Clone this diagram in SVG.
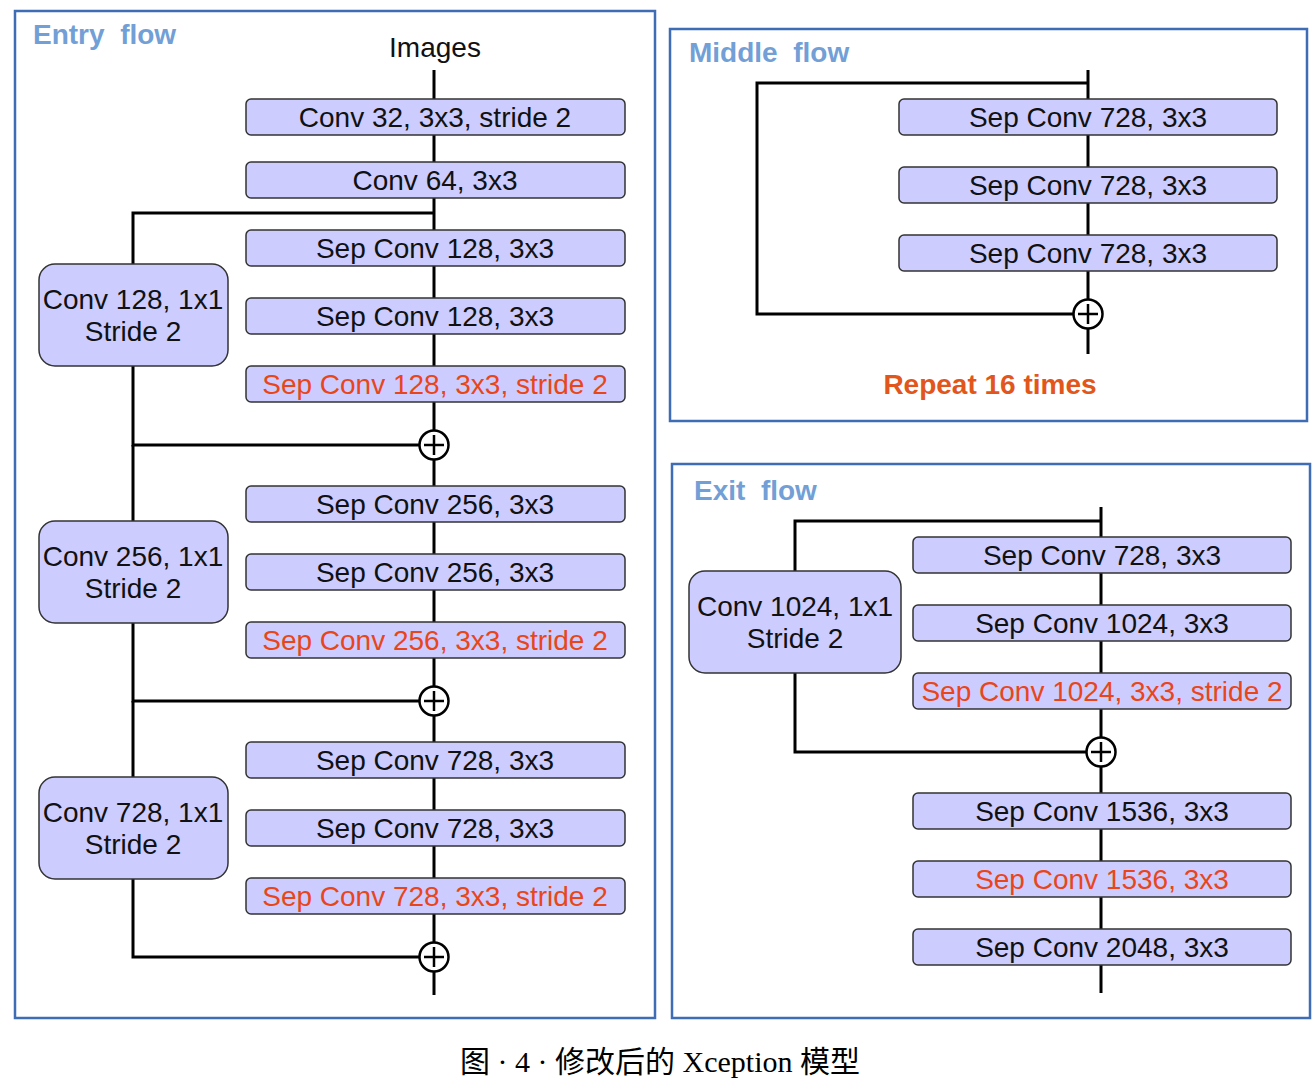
<svg xmlns="http://www.w3.org/2000/svg" width="1316" height="1086" viewBox="0 0 1316 1086">
<style>
.frame{fill:none;stroke:#3f6db5;stroke-width:2.5}
.title{font-family:"Liberation Sans",Arial,sans-serif;font-weight:bold;font-size:28px;fill:#729fd6;white-space:pre}
.box{fill:#ccccff;stroke:#333;stroke-width:1.5}
.t{font-family:"Liberation Sans",Arial,sans-serif;font-size:28px;fill:#111;text-anchor:middle}
.red{fill:#e8461a}
.ln{fill:none;stroke:#000;stroke-width:3}
.plus{fill:#fff;stroke:#000;stroke-width:2.5}
.cap{font-family:"Liberation Serif","Noto Sans CJK SC",serif;font-size:30px;fill:#000;text-anchor:middle;white-space:pre}
</style>
<defs>
<g id="plusSym">
<circle class="plus" cx="0" cy="0" r="14.5"/>
<path d="M-10 0H10M0 -10V10" stroke="#000" stroke-width="2.5" fill="none"/>
</g>
</defs>

<!-- frames -->
<g id="entry-frame">
<rect class="frame" x="15" y="11" width="640" height="1007"/>
<text class="title" x="33" y="44" xml:space="preserve">Entry  flow</text>
</g>
<g id="middle-frame">
<rect class="frame" x="670" y="29" width="637" height="392"/>
<text class="title" x="689" y="62" xml:space="preserve">Middle  flow</text>
</g>
<g id="exit-frame">
<rect class="frame" x="672" y="464" width="638" height="554"/>
<text class="title" x="694" y="500" xml:space="preserve">Exit  flow</text>
</g>

<!-- connectors -->
<g id="connectors">
<path class="ln" d="M434 70V995"/>
<path class="ln" d="M434 213H133V445H419"/>
<path class="ln" d="M133 445V701H419"/>
<path class="ln" d="M133 701V957H419"/>
<path class="ln" d="M1088 70V354"/>
<path class="ln" d="M1088 83H757V314H1073"/>
<path class="ln" d="M1101 507V993"/>
<path class="ln" d="M1101 521H795V752H1086"/>
<use href="#plusSym" x="434" y="445"/>
<use href="#plusSym" x="434" y="701"/>
<use href="#plusSym" x="434" y="957"/>
<use href="#plusSym" x="1088" y="314"/>
<use href="#plusSym" x="1101" y="752"/>
</g>

<text class="t" x="435" y="57" font-size="26">Images</text>

<!-- entry flow nodes -->
<g id="e1"><rect class="box" x="246" y="99" width="379" height="36" rx="5"/><text class="t" x="435" y="127">Conv 32, 3x3, stride 2</text></g>
<g id="e2"><rect class="box" x="246" y="162" width="379" height="36" rx="5"/><text class="t" x="435" y="190">Conv 64, 3x3</text></g>
<g id="e3"><rect class="box" x="246" y="230" width="379" height="36" rx="5"/><text class="t" x="435" y="258">Sep Conv 128, 3x3</text></g>
<g id="e4"><rect class="box" x="246" y="298" width="379" height="36" rx="5"/><text class="t" x="435" y="326">Sep Conv 128, 3x3</text></g>
<g id="e5"><rect class="box" x="246" y="366" width="379" height="36" rx="5"/><text class="t red" x="435" y="394">Sep Conv 128, 3x3, stride 2</text></g>
<g id="s1"><rect class="box" x="39" y="264" width="189" height="102" rx="16"/><text class="t" x="133" y="309">Conv 128, 1x1</text><text class="t" x="133" y="341">Stride 2</text></g>

<g id="e6"><rect class="box" x="246" y="486" width="379" height="36" rx="5"/><text class="t" x="435" y="514">Sep Conv 256, 3x3</text></g>
<g id="e7"><rect class="box" x="246" y="554" width="379" height="36" rx="5"/><text class="t" x="435" y="582">Sep Conv 256, 3x3</text></g>
<g id="e8"><rect class="box" x="246" y="622" width="379" height="36" rx="5"/><text class="t red" x="435" y="650">Sep Conv 256, 3x3, stride 2</text></g>
<g id="s2"><rect class="box" x="39" y="521" width="189" height="102" rx="16"/><text class="t" x="133" y="566">Conv 256, 1x1</text><text class="t" x="133" y="598">Stride 2</text></g>

<g id="e9"><rect class="box" x="246" y="742" width="379" height="36" rx="5"/><text class="t" x="435" y="770">Sep Conv 728, 3x3</text></g>
<g id="e10"><rect class="box" x="246" y="810" width="379" height="36" rx="5"/><text class="t" x="435" y="838">Sep Conv 728, 3x3</text></g>
<g id="e11"><rect class="box" x="246" y="878" width="379" height="36" rx="5"/><text class="t red" x="435" y="906">Sep Conv 728, 3x3, stride 2</text></g>
<g id="s3"><rect class="box" x="39" y="777" width="189" height="102" rx="16"/><text class="t" x="133" y="822">Conv 728, 1x1</text><text class="t" x="133" y="854">Stride 2</text></g>

<!-- middle flow nodes -->
<g id="m1"><rect class="box" x="899" y="99" width="378" height="36" rx="5"/><text class="t" x="1088" y="127">Sep Conv 728, 3x3</text></g>
<g id="m2"><rect class="box" x="899" y="167" width="378" height="36" rx="5"/><text class="t" x="1088" y="195">Sep Conv 728, 3x3</text></g>
<g id="m3"><rect class="box" x="899" y="235" width="378" height="36" rx="5"/><text class="t" x="1088" y="263">Sep Conv 728, 3x3</text></g>
<text class="title" x="990" y="394" style="fill:#e2561c;text-anchor:middle">Repeat 16 times</text>

<!-- exit flow nodes -->
<g id="x1"><rect class="box" x="913" y="537" width="378" height="36" rx="5"/><text class="t" x="1102" y="565">Sep Conv 728, 3x3</text></g>
<g id="x2"><rect class="box" x="913" y="605" width="378" height="36" rx="5"/><text class="t" x="1102" y="633">Sep Conv 1024, 3x3</text></g>
<g id="x3"><rect class="box" x="913" y="673" width="378" height="36" rx="5"/><text class="t red" x="1102" y="701">Sep Conv 1024, 3x3, stride 2</text></g>
<g id="xs"><rect class="box" x="689" y="571" width="212" height="102" rx="16"/><text class="t" x="795" y="616">Conv 1024, 1x1</text><text class="t" x="795" y="648">Stride 2</text></g>
<g id="x4"><rect class="box" x="913" y="793" width="378" height="36" rx="5"/><text class="t" x="1102" y="821">Sep Conv 1536, 3x3</text></g>
<g id="x5"><rect class="box" x="913" y="861" width="378" height="36" rx="5"/><text class="t red" x="1102" y="889">Sep Conv 1536, 3x3</text></g>
<g id="x6"><rect class="box" x="913" y="929" width="378" height="36" rx="5"/><text class="t" x="1102" y="957">Sep Conv 2048, 3x3</text></g>

<text class="cap" x="660" y="1072" xml:space="preserve">图 · 4 · 修改后的 Xception 模型</text>
</svg>
